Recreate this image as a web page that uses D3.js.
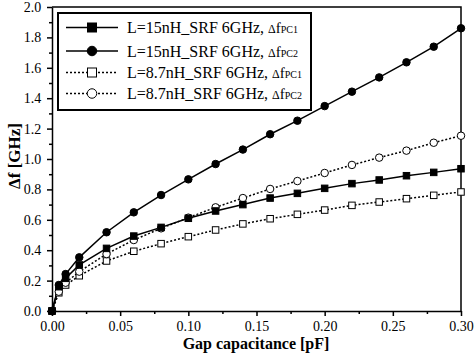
<!DOCTYPE html>
<html><head><meta charset="utf-8">
<script src="https://cdn.jsdelivr.net/npm/d3@7"></script>
<style>html,body{margin:0;padding:0;background:#fff;}svg{display:block;}</style>
</head><body>
<script>
const gapCap = [0, 0.005, 0.01, 0.02, 0.04, 0.06, 0.08, 0.10, 0.12, 0.14, 0.16, 0.18, 0.20, 0.22, 0.24, 0.26, 0.28, 0.30];
const l15PC1 = [0, 0.16, 0.215, 0.303, 0.412, 0.493, 0.55, 0.61, 0.658, 0.70, 0.743, 0.774, 0.807, 0.838, 0.862, 0.89, 0.912, 0.936];
const l15PC2 = [0, 0.171, 0.243, 0.353, 0.518, 0.649, 0.763, 0.866, 0.967, 1.062, 1.163, 1.252, 1.348, 1.443, 1.537, 1.636, 1.739, 1.86];
const l87PC1 = [0, 0.12, 0.171, 0.232, 0.329, 0.393, 0.443, 0.489, 0.533, 0.573, 0.607, 0.636, 0.664, 0.695, 0.717, 0.739, 0.761, 0.783];
const l87PC2 = [0, 0.127, 0.186, 0.259, 0.375, 0.467, 0.544, 0.614, 0.682, 0.743, 0.803, 0.855, 0.908, 0.961, 1.009, 1.055, 1.107, 1.153];
const xTicks = [0, 0.05, 0.10, 0.15, 0.20, 0.25, 0.30];
const yTicks = [0, 0.2, 0.4, 0.6, 0.8, 1.0, 1.2, 1.4, 1.6, 1.8, 2.0];
const seriesNames = ["L=15nH_SRF 6GHz, ", "L=15nH_SRF 6GHz, ", "L=8.7nH_SRF 6GHz, ", "L=8.7nH_SRF 6GHz, "];
const seriesSubs = ["PC1", "PC2", "PC1", "PC2"];

(function () {
const W = 474, H = 355;
const pL = 52, pR = 461, pT = 7, pB = 311;
const font = "Liberation Serif, Times New Roman, serif";

const svg = d3.select("body").append("svg").attr("width", W).attr("height", H);
const x = d3.scaleLinear().domain([0, 0.30]).range([pL, pR]);
const y = d3.scaleLinear().domain([0, 2.0]).range([pB, pT]);

const series = [
  {vals: l15PC1, shape: "square", filled: true, dash: null},
  {vals: l15PC2, shape: "circle", filled: true, dash: null},
  {vals: l87PC1, shape: "square", filled: false, dash: "2,2"},
  {vals: l87PC2, shape: "circle", filled: false, dash: "2,2"}
];

// frame (top, right)
svg.append("path").attr("d", `M${pL},${pT}H${pR}V${pB}`)
  .attr("fill", "none").attr("stroke", "#000").attr("stroke-width", 1.5);

// x axis
const xAxis = d3.axisBottom(x).tickValues(xTicks).tickFormat(d3.format(".2f")).tickSize(5).tickSizeOuter(0);
const gx = svg.append("g").attr("transform", `translate(0,${pB})`).call(xAxis)
  .attr("font-family", font).attr("font-size", 14);
gx.selectAll("text").attr("fill", "#000").attr("dy", "0.88em");
const xMinor = d3.axisBottom(x).tickValues(d3.range(0.025, 0.30, 0.05)).tickFormat("").tickSize(3).tickSizeOuter(0);
svg.append("g").attr("transform", `translate(0,${pB})`).call(xMinor).select(".domain").remove();

// y axis
const yAxis = d3.axisLeft(y).tickValues(yTicks).tickFormat(d3.format(".1f")).tickSize(5).tickSizeOuter(0);
const gy = svg.append("g").attr("transform", `translate(${pL},0)`).call(yAxis)
  .attr("font-family", font).attr("font-size", 14);
gy.selectAll("text").attr("fill", "#000").attr("dx", "-0.2em");
const yMinor = d3.axisLeft(y).tickValues(d3.range(0.1, 2.0, 0.2)).tickFormat("").tickSize(3).tickSizeOuter(0);
svg.append("g").attr("transform", `translate(${pL},0)`).call(yMinor).select(".domain").remove();
svg.selectAll(".domain, .tick line").attr("stroke", "#000").attr("stroke-width", 1.5);

// series
const line = d3.line().x(d => x(d[0])).y(d => y(d[1]));
function marker(g, shape, filled, cx, cy, size) {
  if (shape === "square") {
    g.append("rect").attr("x", cx - size/2).attr("y", cy - size/2).attr("width", size).attr("height", size)
      .attr("fill", filled ? "#000" : "#fff").attr("stroke", "#000").attr("stroke-width", 1);
  } else {
    g.append("circle").attr("cx", cx).attr("cy", cy).attr("r", size/2)
      .attr("fill", filled ? "#000" : "#fff").attr("stroke", "#000").attr("stroke-width", 1);
  }
}
const order = [2, 3, 0, 1];
order.forEach(i => {
  const s = series[i];
  const pts = gapCap.map((g, k) => [g, s.vals[k]]);
  svg.append("path").datum(pts).attr("d", line).attr("fill", "none").attr("stroke", "#000")
    .attr("stroke-width", 1.5).attr("stroke-dasharray", s.dash);
});
order.forEach(i => {
  const s = series[i];
  const g = svg.append("g");
  gapCap.forEach((gc, k) => marker(g, s.shape, s.filled, x(gc), y(s.vals[k]), s.shape === "square" ? 6.5 : 7.5));
});

// legend
const lg = svg.append("g");
lg.append("rect").attr("x", 58).attr("y", 13).attr("width", 253).attr("height", 97)
  .attr("fill", "#fff").attr("stroke", "#000").attr("stroke-width", 2);
const rowY = [27.5, 51, 72.5, 93.5];
series.forEach((s, i) => {
  const yy = rowY[i];
  lg.append("line").attr("x1", 66).attr("x2", 118).attr("y1", yy).attr("y2", yy)
    .attr("stroke", "#000").attr("stroke-width", 1.5).attr("stroke-dasharray", s.dash);
  marker(lg, s.shape, s.filled, 92, yy, s.shape === "square" ? 9 : 9.5);
  const t = lg.append("text").attr("x", 127).attr("y", yy + 5.5).attr("font-family", font).attr("font-size", 16).attr("fill", "#000");
  t.append("tspan").text(seriesNames[i]);
  t.append("tspan").attr("font-size", 12).text("\u0394");
  t.append("tspan").attr("font-size", 15).text("f");
  t.append("tspan").attr("font-size", 10).text(seriesSubs[i]);
});

// axis titles
svg.append("text").attr("x", 256).attr("y", 349).attr("text-anchor", "middle")
  .attr("font-family", font).attr("font-weight", "bold").attr("font-size", 16).attr("fill", "#000")
  .text("Gap capacitance [pF]");
svg.append("text").attr("transform", `translate(20,156) rotate(-90)`).attr("text-anchor", "middle")
  .attr("font-family", font).attr("font-weight", "bold").attr("font-size", 17).attr("fill", "#000")
  .text("\u0394f [GHz]");
})();
</script>
</body></html>
